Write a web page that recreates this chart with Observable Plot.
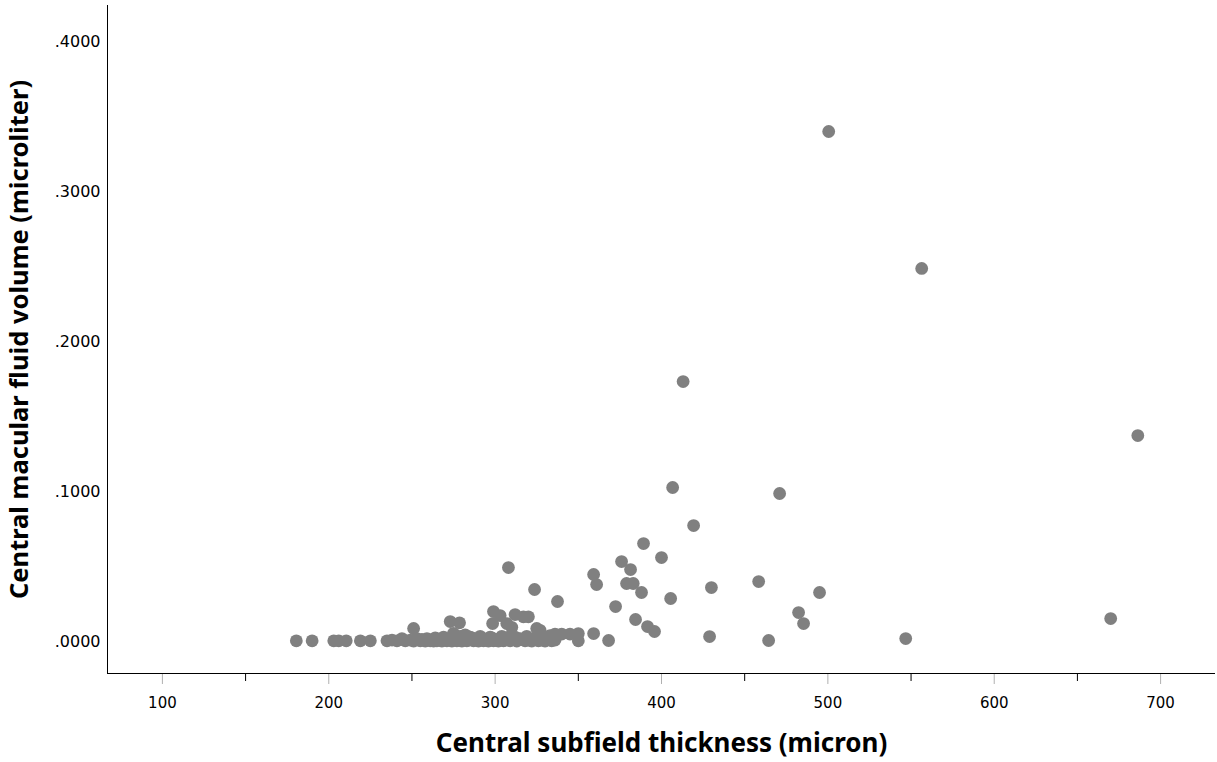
<!DOCTYPE html>
<html>
<head>
<meta charset="utf-8">
<script src="https://cdn.jsdelivr.net/npm/d3@7"></script>
<script src="https://cdn.jsdelivr.net/npm/@observablehq/plot@0.6"></script>
<style>
  html, body { margin: 0; padding: 0; background: #fff; }
  #chart svg { display: block; }
</style>
</head>
<body>
<div id="chart"></div>
<script>
// Central subfield thickness (micron)
const thickness = [
  // scattered points
  500.5, 556.4, 413, 686.3, 406.7, 471, 419.3, 389.2, 400, 376, 359.2, 381.4, 308, 361, 379, 383,
  458.4, 430, 323.7, 388, 495, 337.5, 405.5, 372.4, 482.4, 485.4, 384.4, 670, 391.6, 395.8, 428.9,
  464.4, 546.8, 368.2, 359.2, 350, 345, 340,
  // slightly elevated points within cluster
  251, 273, 278.6, 299, 303, 298.5, 312, 317, 320, 325, 327, 307, 310, 282, 275, 333, 336,
  // near-zero band
  180.5, 190, 203, 206, 210.5, 219, 225, 235, 238, 241, 244, 246, 249, 251, 253, 255, 256, 258, 259,
  261, 262, 264, 265, 267, 268, 270, 271, 272, 274, 275, 277, 278, 280, 281, 283, 284, 286, 287,
  289, 290, 292, 293, 295, 296, 298, 299, 300, 302, 303, 305, 306, 308, 309, 311, 313, 315, 318,
  320, 322, 324, 326, 328, 330, 332, 334, 336, 350, 263, 269, 279, 285, 291, 297, 304, 312, 319, 329
];
// Central macular fluid volume (microliter)
const fluidVolume = [
  0.340, 0.2487, 0.1733, 0.1373, 0.1027, 0.0987, 0.0773, 0.0653, 0.056, 0.0533, 0.0447, 0.048, 0.0493, 0.038, 0.0387, 0.0387,
  0.040, 0.036, 0.0347, 0.0327, 0.0327, 0.0267, 0.0287, 0.0233, 0.0193, 0.012, 0.0147, 0.0153, 0.010, 0.0067, 0.0033,
  0.0007, 0.002, 0.0007, 0.0053, 0.0053, 0.005, 0.005,
  0.0087, 0.0133, 0.0125, 0.0200, 0.0173, 0.012, 0.0180, 0.0165, 0.0165, 0.0087, 0.0075, 0.0120, 0.0095, 0.0045, 0.0055, 0.004, 0.005,
  0.0005, 0.0005, 0.0005, 0.0005, 0.0005, 0.0005, 0.0005, 0.0005, 0.001, 0.0005, 0.002, 0.0005, 0.001, 0.0003, 0.002,
  0.0005, 0.0015, 0.0003, 0.002, 0.0005, 0.001, 0.0025, 0.0005, 0.0015, 0.0003, 0.002, 0.0005, 0.0015, 0.0003, 0.002,
  0.0005, 0.001, 0.0003, 0.002, 0.0005, 0.001, 0.0025, 0.0005, 0.0015, 0.0003, 0.002, 0.0005, 0.001, 0.0003, 0.0025,
  0.0005, 0.001, 0.0003, 0.002, 0.0005, 0.001, 0.003, 0.0005, 0.0015, 0.0003, 0.002, 0.0005, 0.001, 0.0003, 0.002,
  0.0005, 0.001, 0.0003, 0.002, 0.0005, 0.001, 0.0005, 0.0003, 0.003, 0.0035, 0.003, 0.0035, 0.003, 0.0035, 0.003, 0.0035
];
const xLabelTicks = [100, 200, 300, 400, 500, 600, 700];
const xMinorTicks = [150, 250, 350, 450, 550, 650];
const yTicks = [0, 0.1, 0.2, 0.3, 0.4];

const data = thickness.map((x, i) => ({x, y: fluidVolume[i]}));
const fmtY = d => d3.format(".4f")(d).replace(/^0/, "");

const chart = Plot.plot({
  width: 1217,
  height: 762,
  marginLeft: 107,
  marginRight: 2,
  marginTop: 5,
  marginBottom: 89,
  style: {fontFamily: "DejaVu Sans", fontSize: "15px", color: "#000", background: "#fff", overflow: "visible"},
  x: {domain: [67, 733]},
  y: {domain: [-0.0213, 0.424]},
  marks: [
    Plot.dot(data, {x: "x", y: "y", r: 6.4, fill: "#808080", stroke: "none"}),
    Plot.axisX({ticks: xLabelTicks, tickSize: 11, stroke: "#b0b0b0", tickPadding: 13, tickFormat: d => String(d), fill: "#000", fontSize: 15, label: null}),
    Plot.axisX({ticks: xMinorTicks, tickSize: 8, stroke: "#000", tickFormat: () => "", label: null}),
    Plot.axisY({ticks: yTicks, tickSize: 0, tickPadding: 7, tickFormat: fmtY, fontSize: 16, label: null}),
    Plot.ruleY([-0.0213], {stroke: "#000", strokeWidth: 1}),
    Plot.ruleX([67], {stroke: "#000", strokeWidth: 1}),
    Plot.text(["Central subfield thickness (micron)"], {frameAnchor: "bottom", dy: 78, fontFamily: "Noto Sans", fontWeight: "bold", fontSize: 26, fill: "#000"}),
    Plot.text(["Central macular fluid volume (microliter)"], {frameAnchor: "left", dx: -88, rotate: -90, textAnchor: "middle", fontFamily: "Noto Sans", fontWeight: "bold", fontSize: 25.5, fill: "#000"})
  ]
});
document.getElementById("chart").appendChild(chart);
</script>
</body>
</html>
